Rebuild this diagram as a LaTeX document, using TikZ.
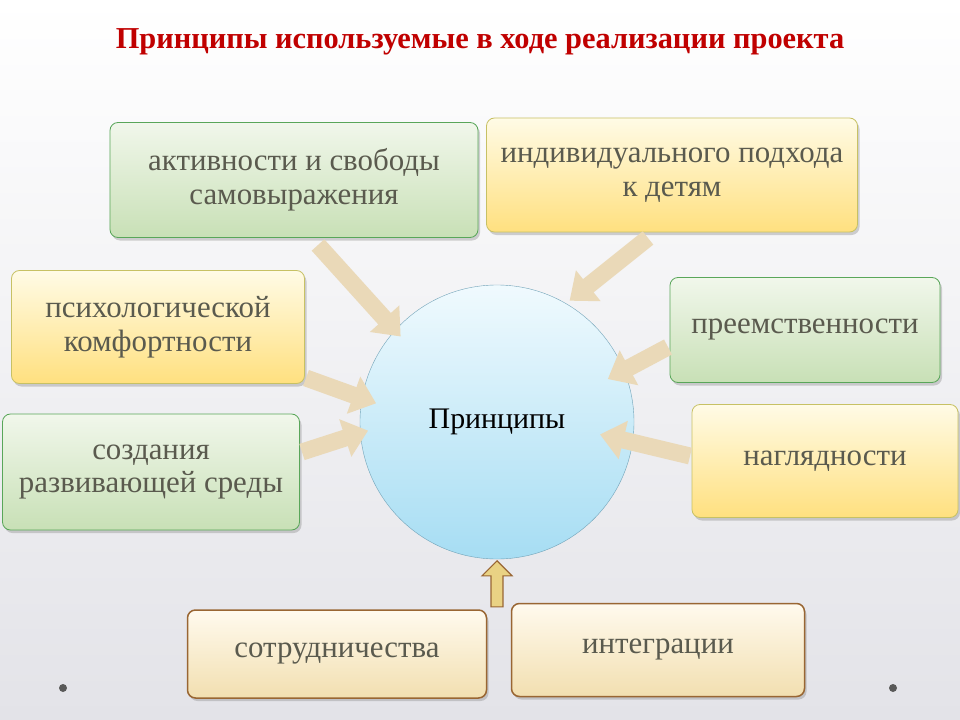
\documentclass[tikz,border=0pt]{standalone}
\usepackage{fontspec}
\setmainfont{Liberation Serif}
\usetikzlibrary{shadows,arrows.meta,shapes.arrows}
\definecolor{txt}{HTML}{5A5A4E}
\definecolor{ttl}{HTML}{C00000}
\definecolor{arr}{HTML}{EAD9B8}
\definecolor{ctop}{HTML}{F0FAFE}
\definecolor{cbot}{HTML}{A6DDF3}
\definecolor{gtop}{HTML}{F1F7EB}
\definecolor{gbot}{HTML}{C8E0B6}
\definecolor{ytop}{HTML}{FFFBE6}
\definecolor{ybot}{HTML}{FFE07F}
\definecolor{ttop}{HTML}{FFFAEE}
\definecolor{tbot}{HTML}{F2DFB0}
\tikzset{
  box/.style={rounded corners=8bp, line width=0.8bp, align=center, text=txt,
     font=\fontsize{31}{34}\selectfont, drop shadow={opacity=0.35,shadow xshift=2bp,shadow yshift=-3bp}, inner sep=4bp},
  gbox/.style={box, top color=gtop, bottom color=gbot, draw=green!30!gray},
  ybox/.style={box, top color=ytop, bottom color=ybot, draw=yellow!50!gray},
  tbox/.style={box, top color=ttop, bottom color=tbot, draw=brown!80!black, line width=1.5bp},
  fat/.style={line width=17bp, draw=arr, -{Triangle[length=24bp,width=38bp]}, shorten >=2bp},
}
\begin{document}
\begin{tikzpicture}[x=1bp,y=-1bp]
\shade[top color=white, bottom color=blue!10!gray!20!white] (0,0) rectangle (960,720);
\useasboundingbox (0,0) rectangle (960,720);
\node (title) at (480,42) {\fontsize{30.5}{33}\selectfont\bfseries\color{ttl}Принципы используемые в ходе реализации проекта};
\node[circle, minimum size=274bp, draw=cyan!40!gray, top color=ctop, bottom color=cbot, font=\fontsize{30}{34}\selectfont] (c) at (497,422) {Принципы};
\node[gbox, minimum width=368bp, minimum height=115bp] (b1) at (294,180) {активности и свободы\\самовыражения};
\node[ybox, minimum width=371bp, minimum height=114bp] (b2) at (672,175) {индивидуального подхода\\к детям};
\node[ybox, minimum width=293bp, minimum height=113bp] (b3) at (158,327) {психологической\\комфортности};
\node[gbox, minimum width=270bp, minimum height=105bp] (b4) at (805,330) {преемственности};
\node[gbox, minimum width=297bp, minimum height=116bp] (b5) at (151,472) {создания\\развивающей среды};
\node[ybox, minimum width=266bp, minimum height=113bp] (b6) at (825,461) {наглядности};
\node[tbox, minimum width=299bp, minimum height=88bp] (b7) at (337,654) {сотрудничества};
\node[tbox, minimum width=293bp, minimum height=93bp] (b8) at (658,650) {интеграции};
\coordinate (s1) at (318,245); \coordinate (e1) at (402,338);
\coordinate (s2) at (648,238); \coordinate (e2) at (568,302);
\coordinate (s3) at (306,378); \coordinate (e3) at (378,404);
\coordinate (s4) at (668,347); \coordinate (e4) at (606,380);
\coordinate (s5) at (302,452); \coordinate (e5) at (370,430);
\coordinate (s6) at (690,456); \coordinate (e6) at (598,434);
\foreach \i in {1,...,6}{\draw[fat] (s\i) -- (e\i);}
\coordinate (up) at (497,560);
\node[single arrow, shape border rotate=90, draw=brown!80!black, line width=1.2bp, fill=yellow!40!brown!60!white,
  minimum height=46bp, minimum width=30bp, single arrow head extend=4bp, inner sep=2bp, anchor=tip] (ua) at (up) {};
\fill[gray!70!black] (63,688) circle (4bp) (893,688) circle (4bp);
\end{tikzpicture}
\end{document}
